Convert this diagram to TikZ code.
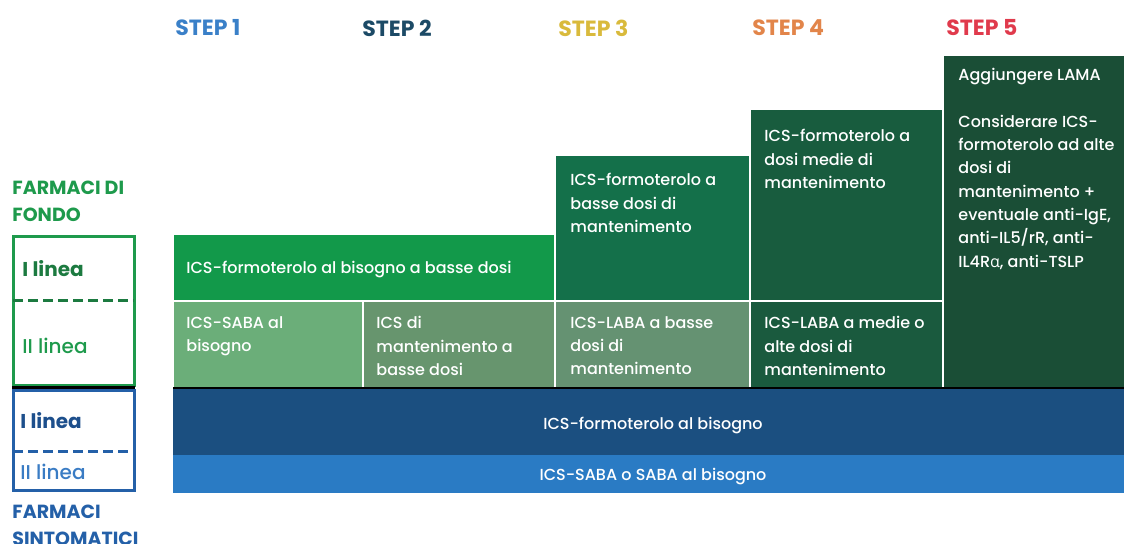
\documentclass[tikz,border=0pt]{standalone}
\usepackage{fontspec}
\setmainfont{Poppins}
\IfFontExistsTF{Poppins Medium}{\newfontfamily\medfont{Poppins Medium}}{%
  \IfFontExistsTF{Poppins-Medium}{\newfontfamily\medfont{Poppins-Medium}}{\newfontfamily\medfont{Poppins}}}
\newfontfamily\alphafont{Open Sans}
\usetikzlibrary{positioning}

\definecolor{stepA}{HTML}{3A80C8}
\definecolor{stepB}{HTML}{1C4A66}
\definecolor{stepC}{HTML}{D9BA3C}
\definecolor{stepD}{HTML}{E2854A}
\definecolor{stepE}{HTML}{E03A4C}
\definecolor{fondoA}{HTML}{12994A}
\definecolor{topC}{HTML}{14704A}
\definecolor{topD}{HTML}{185C3E}
\definecolor{topE}{HTML}{1A4E36}
\definecolor{lowA}{HTML}{6BAE79}
\definecolor{lowB}{HTML}{67956E}
\definecolor{lowC}{HTML}{659272}
\definecolor{lowD}{HTML}{1A5A3E}
\definecolor{bandA}{HTML}{1B4F80}
\definecolor{bandB}{HTML}{2A7BC4}
\definecolor{legG}{HTML}{1E9A4C}
\definecolor{legGd}{HTML}{1C7A40}
\definecolor{legB}{HTML}{2460A8}
\definecolor{legBd}{HTML}{1D4F8C}
\definecolor{legBl}{HTML}{3A7CC4}

\tikzset{
  steplabel/.style={font=\bfseries\fontsize{11}{13}\selectfont, anchor=west, inner sep=0pt},
  cell/.style={draw=white, line width=0.8pt},
  celltext/.style={text=white, font=\medfont\fontsize{8}{11.65}\selectfont, anchor=north west,
    align=left, inner sep=0pt},
  bandtext/.style={text=white, font=\medfont\fontsize{8}{9}\selectfont, inner sep=0pt},
  legtitle/.style={font=\bfseries\fontsize{9.5}{13.5}\selectfont, anchor=west, align=left, inner sep=0pt},
  leglabel/.style={font=\medfont\fontsize{10}{12}\selectfont, anchor=west, inner sep=0pt},
  legdash/.style={line width=1.5pt, dash pattern=on 5pt off 2.5pt},
}

\begin{document}
\begin{tikzpicture}[x=0.5pt, y=-0.5pt]
\useasboundingbox (0,0) rectangle (1124,544);
\clip (0,0) rectangle (1124,544);

%Step labels
\node[steplabel, text=stepA] (s1) at (175,28) {STEP 1};
\node[steplabel, text=stepB] (s2) at (362,28) {STEP 2};
\node[steplabel, text=stepC] (s3) at (558,28) {STEP 3};
\node[steplabel, text=stepD] (s4) at (752,28) {STEP 4};
\node[steplabel, text=stepE] (s5) at (946,28) {STEP 5};

%Farmaci di fondo, I linea
\filldraw[cell, fill=fondoA] (173,234) rectangle (555,301);
\filldraw[cell, fill=topC] (555,155) rectangle (750,301);
\filldraw[cell, fill=topD] (750,109) rectangle (943,301);
\filldraw[cell, fill=topE] (943,55) rectangle (1126,388);

%Farmaci di fondo, II linea
\filldraw[cell, fill=lowA] (173,301) rectangle (363,388);
\filldraw[cell, fill=lowB] (363,301) rectangle (555,388);
\filldraw[cell, fill=lowC] (555,301) rectangle (750,388);
\filldraw[cell, fill=lowD] (750,301) rectangle (943,388);

%Farmaci sintomatici
\fill[bandA] (173,388) rectangle (1124,455);
\fill[bandB] (173,455) rectangle (1124,493);
\draw[black, line width=1pt] (173,388) -- (1124,388);

%Cell texts
\node[celltext, anchor=west] (c1a) at (186,270) {ICS-formoterolo al bisogno a basse dosi};
\node[celltext] (c1b) at (186,316) {ICS-SABA al\\bisogno};
\node[celltext] (c2b) at (376,316) {ICS di\\mantenimento a\\basse dosi};
\node[celltext] (c3a) at (570,173) {ICS-formoterolo a\\basse dosi di\\mantenimento};
\node[celltext] (c3b) at (570,316) {ICS-LABA a basse\\dosi di\\mantenimento};
\node[celltext] (c4a) at (764,129) {ICS-formoterolo a\\dosi medie di\\mantenimento};
\node[celltext] (c4b) at (764,316) {ICS-LABA a medie o\\alte dosi di\\mantenimento};
\node[celltext] (c5) at (958,68) {Aggiungere LAMA\\[11.65pt]Considerare ICS-\\formoterolo ad alte\\dosi di\\mantenimento +\\eventuale anti-IgE,\\anti-IL5/rR, anti-\\IL4R{\alphafont α}, anti-TSLP};
\node[bandtext] (bA) at (653,426) {ICS-formoterolo al bisogno};
\node[bandtext] (bB) at (653,477) {ICS-SABA o SABA al bisogno};

%Legend
\node[legtitle, text=legG] (fondo) at (12,201) {FARMACI DI\\FONDO};
\draw[legG, line width=1.5pt] (13,237) rectangle (134,386);
\draw[legdash, legGd] (13,301) -- (134,301);
\node[leglabel, text=legGd, font=\bfseries\fontsize{10}{12}\selectfont] (fI) at (22,269) {I linea};
\node[leglabel, text=legG] (fII) at (22,346) {II linea};

\draw[black, line width=1.5pt] (12,388) -- (135,388);
\draw[legB, line width=1.5pt] (13,391) rectangle (134,491);
\draw[legdash, legB] (13,452) -- (134,452);
\node[leglabel, text=legBd, font=\bfseries\fontsize{10}{12}\selectfont] (sI) at (20,421) {I linea};
\node[leglabel, text=legBl] (sII) at (20,472) {II linea};
\node[legtitle, text=legB] (sint) at (12,525) {FARMACI\\SINTOMATICI};
\end{tikzpicture}
\end{document}
